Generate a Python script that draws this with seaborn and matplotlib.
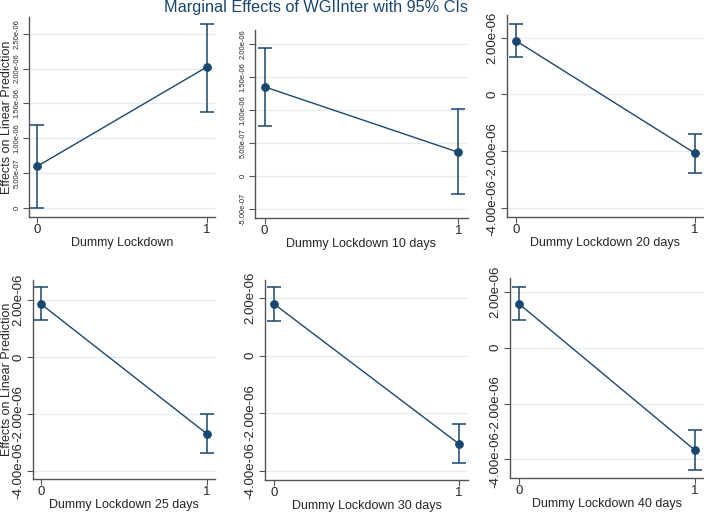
import numpy as np
import pandas as pd
import seaborn as sns
import matplotlib.pyplot as plt
from matplotlib.ticker import FuncFormatter

# Marginal effects (x = 0, 1)
x_vals = [0, 1]
labels = ['Dummy Lockdown', 'Dummy Lockdown 10 days', 'Dummy Lockdown 20 days',
          'Dummy Lockdown 25 days', 'Dummy Lockdown 30 days', 'Dummy Lockdown 40 days']
est = [[0.60e-6, 2.02e-6], [1.355e-6, 0.36e-6], [1.89e-6, -2.08e-6],
       [1.85e-6, -2.69e-6], [1.79e-6, -3.07e-6], [1.58e-6, -3.68e-6]]
lo = [[0.00e-6, 1.38e-6], [0.76e-6, -0.28e-6], [1.31e-6, -2.76e-6],
      [1.28e-6, -3.37e-6], [1.21e-6, -3.75e-6], [1.00e-6, -4.40e-6]]
hi = [[1.19e-6, 2.64e-6], [1.95e-6, 1.02e-6], [2.48e-6, -1.41e-6],
      [2.44e-6, -2.00e-6], [2.38e-6, -2.38e-6], [2.18e-6, -2.94e-6]]
yticks = [np.arange(0, 2.51e-6, 5e-7), np.arange(-5e-7, 2.01e-6, 5e-7),
          [-4e-6, -2e-6, 0, 2e-6], [-4e-6, -2e-6, 0, 2e-6],
          [-4e-6, -2e-6, 0, 2e-6], [-4e-6, -2e-6, 0, 2e-6]]
ylims = [(-0.13e-6, 2.74e-6), (-0.64e-6, 2.22e-6), (-4.33e-6, 2.8e-6),
         (-4.28e-6, 2.7e-6), (-4.33e-6, 2.63e-6), (-4.67e-6, 2.5e-6)]

# axes boxes in pixels: left, right, top, bottom
boxes = [(29, 215, 17, 217), (255, 468, 30, 218), (507, 704, 15, 217),
         (33, 215, 280, 479), (265, 468, 280, 480), (510, 704, 278, 478)]

navy = '#1a476f'
W, H = 704, 515

sns.set_theme(style='white')
plt.rcParams['font.family'] = ['Liberation Sans', 'DejaVu Sans']

fig = plt.figure(figsize=(W / 100, H / 100), dpi=100)


def fmt(v, pos):
    if abs(v) < 1e-12:
        return '0'
    return f'{v:.2e}'


for i in range(6):
    l, r, t, b = boxes[i]
    ax = fig.add_axes([l / W, (H - b) / H, (r - l) / W, (b - t) / H])
    df = pd.DataFrame({'x': x_vals, 'y': est[i]})
    yerr = [np.array(est[i]) - np.array(lo[i]), np.array(hi[i]) - np.array(est[i])]
    ax.errorbar(x_vals, est[i], yerr=yerr, fmt='none', ecolor=navy,
                elinewidth=1.1, capsize=5, capthick=1.1, zorder=2)
    sns.lineplot(data=df, x='x', y='y', ax=ax, color=navy, linewidth=1,
                 marker='o', markersize=5.5, markeredgecolor=navy, zorder=3)
    ax.set_xlim(-0.05, 1.05)
    ax.set_ylim(*ylims[i])
    ax.set_xticks([0, 1])
    ax.set_yticks(yticks[i])
    ax.yaxis.set_major_formatter(FuncFormatter(fmt))
    ax.grid(axis='y', color='#e4eef0', linewidth=1)
    ax.set_axisbelow(True)
    for s in ['top', 'right']:
        ax.spines[s].set_visible(False)
    for s in ['left', 'bottom']:
        ax.spines[s].set_color('#555555')
        ax.spines[s].set_linewidth(1)
    ysize = 5.5 if i < 2 else 9.5
    ax.tick_params(axis='y', labelsize=ysize, rotation=90, length=4,
                   width=0.8, color='#555555', left=True, pad=2)
    for lab in ax.get_yticklabels():
        lab.set_va('center')
    ax.tick_params(axis='x', labelsize=9.5, length=4, width=0.8,
                   color='#555555', bottom=True, pad=1)
    ax.set_xlabel(labels[i], fontsize=9, labelpad=1)
    if i in (0, 3):
        ax.set_ylabel('Effects on Linear Prediction', fontsize=9)
        ax.yaxis.set_label_coords((13 - l) / (r - l), 0.5)
    else:
        ax.set_ylabel('')

fig.text(316 / W, 1 - 12 / H, 'Marginal Effects of WGIInter with 95% CIs',
         ha='center', va='baseline', fontsize=11.7, color=navy)

fig.savefig('out.png', dpi=100)
